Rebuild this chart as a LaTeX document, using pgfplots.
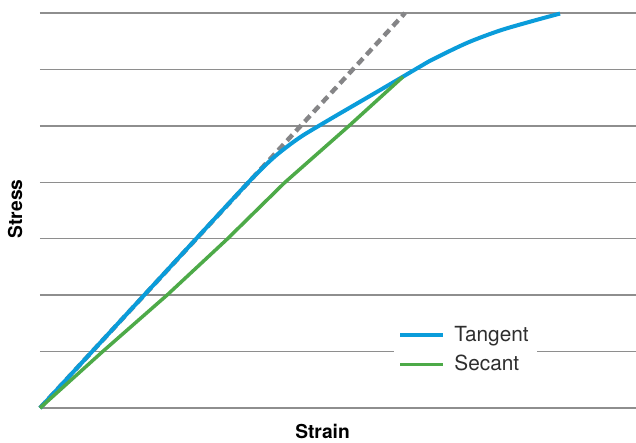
\documentclass[border=0pt]{standalone}
\usepackage{fontspec}
\setmainfont{TeX Gyre Heros}
\usepackage{pgfplots}
\pgfplotsset{compat=1.18}

\definecolor{tanblue}{HTML}{0A9CDA}
\definecolor{secgreen}{HTML}{4DAA48}
\definecolor{dashgray}{HTML}{858587}
\definecolor{gridgray}{HTML}{8E8E8E}

\begin{document}
\begin{tikzpicture}
\begin{axis}[
    at={(0,0)}, anchor=south west,
    scale only axis,
    width=298pt, height=197.5pt,
    xmin=0, xmax=596,
    ymin=0, ymax=7,
    axis line style={draw=none},
    xtick=\empty,
    ytick={0,1,...,7},
    yticklabels={},
    major tick length=0pt,
    ymajorgrids,
    grid style={gridgray, line width=0.75pt},
    clip=false,
    xlabel={Strain},
    ylabel={Stress},
    label style={font=\fontsize{9.6}{11}\selectfont\bfseries, inner sep=0pt},
    xlabel style={at={(axis description cs:0.474,-0.076)}, anchor=base},
    ylabel style={at={(axis description cs:-0.0302,0.504)}, anchor=base},
    legend style={at={(axis description cs:0.714,0.147)}, anchor=center,
        draw=none, fill=white, font=\fontsize{10.4}{12.5}\selectfont,
        text=black!82, inner xsep=2pt, inner ysep=2pt, row sep=1.5pt,
        /tikz/every odd column/.append style={column sep=2.5pt}},
    legend cell align=left,
    legend image code/.code={\draw[#1] (0pt,0pt) -- (21.5pt,0pt);},
]
% tangent reference (dashed)
\addplot[dashgray, line width=2.2pt, dash pattern=on 4pt off 2.5pt, forget plot]
    coordinates {(0,0) (365,7)};

\addplot[tanblue, line width=2pt, smooth, tension=0.5]
    coordinates {
        (0,0) (100,1.92) (200,3.84) (220,4.21) (235,4.46) (250,4.67)
        (262,4.82) (275,4.96) (297,5.19) (330,5.53) (357,5.81) (380,6.05)
        (393,6.18) (427,6.47) (460,6.69) (493,6.86) (520,6.99)
    };
\addlegendentry{Tangent}

\addplot[secgreen, line width=1.75pt]
    coordinates {
        (0,0) (62,0.99) (127,2.0) (187,2.99) (245,4.0) (309,5.0) (363,5.87)
    };
\addlegendentry{Secant}
\end{axis}
\pgfresetboundingbox
\path (-20pt,-17.5pt) rectangle (298pt,204pt);
\end{tikzpicture}
\end{document}
